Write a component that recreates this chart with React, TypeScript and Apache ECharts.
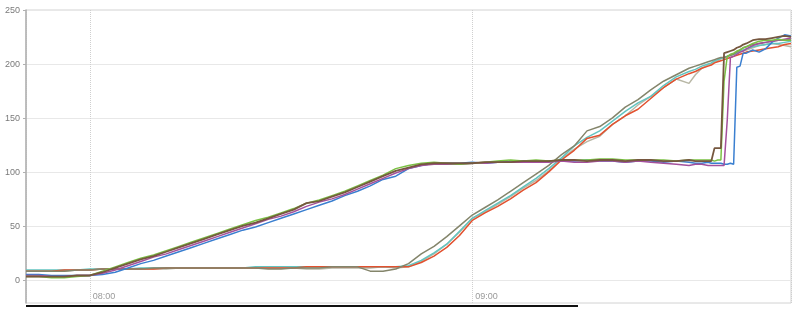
import React, { useEffect, useRef } from "react";
import * as echarts from "echarts";

// minutes after 07:50
const minutes = [
  0, 2, 4, 6, 8, 10, 12, 14, 16, 18, 20, 22, 24, 26, 28, 30, 32, 34, 36, 38, 40, 42, 44, 46, 48, 50, 52, 54, 56, 58,
  60, 62, 64, 66, 68, 70, 72, 74, 76, 78, 80, 82, 84, 86, 88, 90, 92, 94, 96, 98, 100, 102, 104,
  105, 106, 107, 107.5, 108, 108.5, 109, 109.5, 110, 110.5, 111, 111.5, 112, 112.5, 113, 114, 115, 116, 117, 118, 119, 120,
];

const olive = [
  8, 8, 8, 8, 9, 9, 10, 10, 10, 10, 11, 11, 11, 11, 11, 11, 11, 11, 11, 10, 10, 11, 11, 11, 12, 12, 12, 8, 8, 10,
  15, 24, 31, 40, 50, 60, 67, 74, 82, 90, 98, 106, 116, 124, 138, 142, 150, 160, 167, 176, 184, 190, 196,
  198, 200, 202, 203, 204, 205, 206, 206, 207, 208, 209, 211, 213, 215, 216, 218, 219, 220, 221, 222, 222, 223,
];
const red = [
  8, 8, 8, 9, 9, 9, 10, 10, 10, 10, 10, 11, 11, 11, 11, 11, 11, 11, 11, 11, 11, 11, 12, 12, 12, 12, 12, 12, 12, 12,
  12, 16, 22, 30, 41, 55, 62, 68, 75, 83, 90, 100, 111, 120, 131, 134, 144, 152, 158, 168, 178, 186, 191,
  193, 196, 198, 199, 201, 202, 203, 204, 205, 206, 207, 208, 209, 210, 211, 212, 213, 214, 215, 216, 218, 219,
];
const teal = [
  9, 9, 9, 9, 9, 10, 10, 10, 10, 11, 11, 11, 11, 11, 11, 11, 11, 11, 12, 12, 12, 12, 12, 12, 12, 12, 12, 12, 12, 12,
  13, 18, 25, 33, 45, 57, 64, 71, 78, 86, 94, 103, 113, 124, 132, 138, 147, 156, 164, 170, 180, 188, 193,
  195, 198, 200, 201, 203, 204, 205, 206, 207, 208, 209, 210, 212, 213, 214, 216, 217, 218, 219, 219, 220, 221,
];
const beige = [
  8, 8, 8, 8, 9, 9, 10, 10, 10, 10, 10, 10, 11, 11, 11, 11, 11, 11, 11, 11, 11, 11, 10, 10, 11, 11, 11, 11, 12, 11,
  12, 17, 24, 33, 44, 57, 63, 70, 77, 85, 92, 101, 112, 121, 128, 133, 144, 152, 162, 170, 178, 186, 182,
  190, 196, 199, 200, 202, 203, 205, 206, 207, 208, 209, 210, 211, 212, 213, 215, 217, 218, 219, 218, 217, 216,
];
const blue = [
  5, 5, 4, 4, 4, 4, 5, 7, 11, 15, 18, 22, 26, 30, 34, 38, 42, 46, 49, 53, 57, 61, 65, 69, 73, 78, 82, 87, 93, 96,
  103, 106, 108, 108, 108, 109, 108, 109, 110, 110, 110, 110, 110, 110, 111, 110, 110, 109, 110, 110, 109, 110, 109,
  108, 108, 109, 108, 108, 108, 108, 107, 107, 108, 107, 197, 198, 210, 210, 213, 211, 214, 220, 224, 227, 226,
];
const purple = [
  4, 4, 3, 3, 4, 4, 6, 9, 13, 17, 21, 24, 28, 32, 36, 40, 44, 48, 52, 56, 59, 63, 68, 72, 75, 79, 84, 89, 94, 99,
  103, 106, 107, 107, 107, 108, 108, 109, 109, 109, 109, 109, 110, 109, 109, 110, 110, 109, 110, 109, 108, 107, 106,
  107, 107, 106, 106, 106, 106, 106, 106, 148, 206, 207, 209, 211, 212, 214, 217, 219, 220, 221, 222, 223, 224,
];
const green = [
  3, 3, 2, 2, 3, 4, 8, 12, 16, 20, 23, 27, 31, 35, 39, 43, 47, 51, 55, 58, 62, 66, 71, 74, 78, 82, 87, 92, 97, 103,
  106, 108, 109, 108, 107, 108, 109, 110, 111, 110, 111, 110, 111, 111, 111, 112, 112, 111, 111, 111, 111, 110, 111,
  111, 111, 111, 111, 110, 111, 111, 184, 207, 209, 210, 212, 213, 215, 216, 219, 221, 222, 222, 223, 222, 222,
];
const brown = [
  3, 3, 3, 3, 4, 4, 7, 11, 15, 19, 22, 26, 30, 34, 38, 42, 46, 50, 53, 57, 61, 65, 71, 73, 77, 81, 86, 91, 96, 101,
  104, 107, 108, 108, 108, 108, 109, 109, 109, 110, 110, 110, 111, 111, 110, 111, 111, 110, 111, 111, 110, 110, 111,
  110, 110, 110, 110, 122, 122, 122, 210, 211, 212, 213, 215, 216, 218, 219, 222, 223, 223, 224, 225, 226, 225,
];

const seriesList = [
  { name: "beige", values: beige, color: "#b8b7a5", width: 1.5 },
  { name: "teal", values: teal, color: "#62c4c0", width: 1.5 },
  { name: "red", values: red, color: "#e2512f", width: 1.5 },
  { name: "olive", values: olive, color: "#84856b", width: 1.5 },
  { name: "blue", values: blue, color: "#3a7fd0", width: 1.5 },
  { name: "purple", values: purple, color: "#a4509c", width: 1.5 },
  { name: "green", values: green, color: "#7ac143", width: 1.5 },
  { name: "brown", values: brown, color: "#76573f", width: 1.8 },
];

const yMin = -21.5;
const yMax = 250;

export default function App() {
  const ref = useRef<HTMLDivElement>(null);
  useEffect(() => {
    if (!ref.current) return;
    const chart = echarts.init(ref.current, undefined, { renderer: "svg" });
    const base = new Date(2024, 0, 1, 7, 50, 0).getTime();
    const pad = (n: number) => (n < 10 ? "0" + n : "" + n);
    chart.setOption({
      animation: false,
      textStyle: { fontFamily: "'Liberation Sans', Arial, sans-serif" },
      grid: {
        left: 26,
        top: 10,
        width: 765,
        height: 293,
        show: true,
        borderColor: "#d3d3d3",
        borderWidth: 1,
      },
      xAxis: {
        type: "time",
        min: base,
        max: base + 120 * 60000,
        minInterval: 3600000,
        maxInterval: 3600000,
        splitNumber: 2,
        axisLine: { show: false },
        axisTick: { show: false },
        axisLabel: {
          inside: true,
          align: "left",
          padding: [0, 0, 0, 3],
          margin: 3,
          fontSize: 9,
          color: "#9a9a9a",
          formatter: (v: number) => {
            const d = new Date(v);
            return pad(d.getHours()) + ":" + pad(d.getMinutes());
          },
        },
        splitLine: { show: true, lineStyle: { type: "dotted", color: "#cfcfcf", width: 1 } },
      },
      yAxis: {
        type: "value",
        min: yMin,
        max: yMax,
        splitNumber: 5,
        axisLine: { show: true, lineStyle: { color: "#b0b0b0", width: 1.5 } },
        axisTick: { show: true, length: 3, lineStyle: { color: "#b0b0b0" } },
        axisLabel: { fontSize: 9, color: "#7a7a7a", margin: 6, showMinLabel: false },
        splitLine: { show: true, lineStyle: { color: "#e8e8e8", width: 1 } },
      },
      graphic: [
        {
          type: "rect",
          shape: { x: 26, y: 305, width: 552, height: 2 },
          style: { fill: "#111" },
        },
      ],
      series: seriesList.map((s) => ({
        name: s.name,
        type: "line",
        showSymbol: false,
        symbol: "none",
        lineStyle: { color: s.color, width: s.width },
        itemStyle: { color: s.color },
        data: minutes.map((m, i) => [base + m * 60000, s.values[i]]),
      })),
    });
    return () => chart.dispose();
  }, []);
  return <div ref={ref} style={{ position: "fixed", left: 0, top: 0, width: 800, height: 309 }} />;
}
